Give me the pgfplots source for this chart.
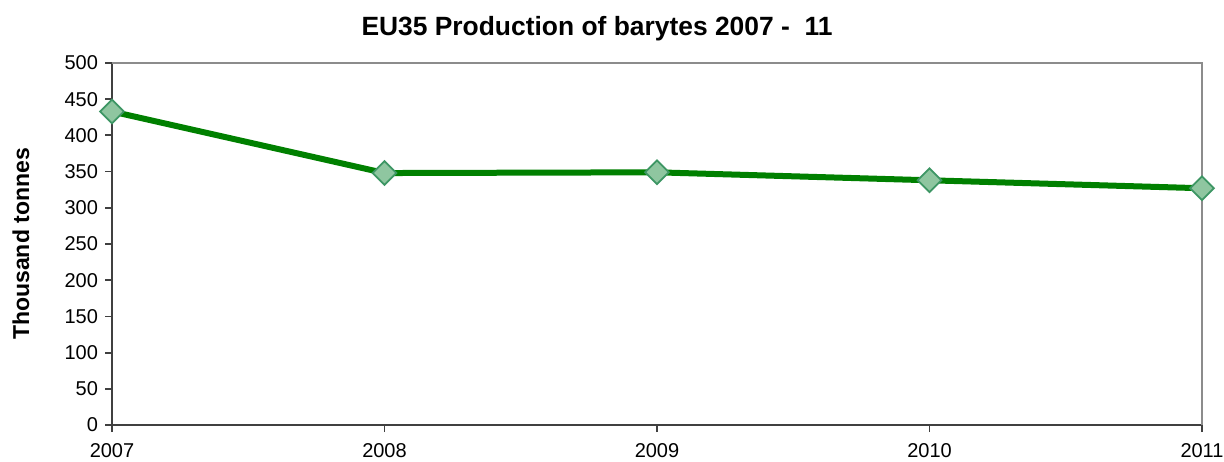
\documentclass[border=0pt]{standalone}
\usepackage{fontspec}
\setmainfont{Liberation Sans}
\usepackage{pgfplots}
\pgfplotsset{compat=1.18}
\definecolor{linegreen}{RGB}{0,128,0}
\definecolor{markfill}{RGB}{143,198,160}
\definecolor{markedge}{RGB}{61,150,100}
\begin{document}
\begin{tikzpicture}
\begin{axis}[
    name=ax,
    scale only axis,
    width=545pt, height=181pt,
    xmin=2007, xmax=2011,
    ymin=0, ymax=500,
    xtick={2007,2008,2009,2010,2011},
    ytick={0,50,...,500},
    axis x line*=bottom,
    axis y line*=left,
    axis line style={black!75, line width=0.9pt},
    tick align=outside,
    major tick length=3.5pt,
    tick style={black!75, line width=0.9pt},
    /pgf/number format/1000 sep={},
    /pgf/number format/assume math mode=true,
    ticklabel style={font=\fontsize{10}{12}\selectfont},
    xticklabel style={yshift=-2pt},
    title={\bfseries EU35 Production of barytes 2007 -\ \ 11},
    title style={font=\fontsize{13.2}{15}\selectfont, anchor=base, yshift=7.5pt, xshift=-30pt},
    ylabel={\bfseries Thousand tonnes},
    ylabel style={font=\fontsize{11.5}{13}\selectfont, at={(axis description cs:-0.0835,0.5)}, anchor=center},
    clip=false,
]
\draw[black!45, line width=0.9pt] (rel axis cs:0,1) -- (rel axis cs:1,1) -- (rel axis cs:1,0);
\addplot[linegreen, line width=3pt, mark=square*, mark size=4.2pt,
    mark options={rotate=45, fill=markfill, draw=markedge, line width=0.9pt}] coordinates {
    (2007,433) (2008,348) (2009,349) (2010,338) (2011,327)
};
\end{axis}
\pgfresetboundingbox
\path[use as bounding box] ([shift={(-56pt,-18pt)}]ax.south west) rectangle ([shift={(11pt,31.5pt)}]ax.north east);
\end{tikzpicture}
\end{document}
